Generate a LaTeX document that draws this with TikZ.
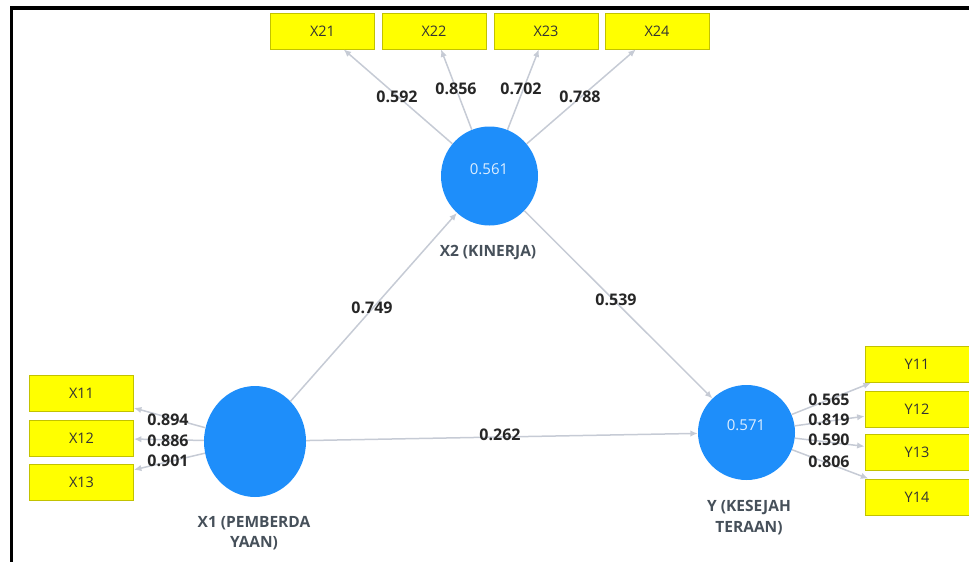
\documentclass[tikz,border=0pt]{standalone}
\usepackage{fontspec}
\setmainfont{Open Sans}
\usetikzlibrary{arrows.meta,shapes.geometric}
\definecolor{boxfill}{HTML}{FFFF00}
\definecolor{boxline}{HTML}{C2C200}
\definecolor{latblue}{HTML}{1E8EFA}
\definecolor{arrgrey}{HTML}{C6CBD5}
\definecolor{lablgrey}{HTML}{46505A}
\definecolor{valtext}{HTML}{DDEEFF}
\tikzset{
  ind/.style={rectangle, draw=boxline, line width=0.8pt, fill=boxfill,
    minimum width=104pt, minimum height=36pt, inner sep=0pt,
    font=\fontsize{14.5}{16}\selectfont, text=black!80},
  lat/.style={ellipse, fill=latblue, inner sep=0pt,
    font=\fontsize{15}{17}\selectfont, text=valtext},
  conn/.style={draw=arrgrey, line width=1.5pt, -{Latex[length=7.5pt,width=6.5pt]}},
  coef/.style={font=\bfseries\fontsize{16}{18}\selectfont, text=black!85, inner sep=0pt},
  latlab/.style={font=\bfseries\fontsize{15.5}{20.5}\selectfont, text=lablgrey, align=center, inner sep=0pt},
}
\begin{document}
\begin{tikzpicture}[x=1pt,y=-1pt]
\useasboundingbox (0,0) rectangle (969,562);
% frame
\draw[line width=3.5pt] (10,8) -- (969,8);
\draw[line width=3pt] (11.5,6.5) -- (11.5,562);

% latent variables
\node[lat, minimum width=102pt, minimum height=111pt] (X1) at (255,441.5) {};
\node[lat, minimum width=97pt, minimum height=99pt] (X2) at (489.5,176) {};
\node[lat, minimum width=97pt, minimum height=95pt] (Y) at (746.5,432.5) {};
\node[font=\fontsize{15}{17}\selectfont, text=valtext, inner sep=0pt] (vX2) at (489,169) {0.561};
\node[font=\fontsize{15}{17}\selectfont, text=valtext, inner sep=0pt] (vY) at (746,425) {0.571};

% indicators
\node[ind] (X21) at (322.5,31) {X21};
\node[ind] (X22) at (434,31) {X22};
\node[ind] (X23) at (546,31) {X23};
\node[ind] (X24) at (657,31) {X24};
\node[ind] (X11) at (81.5,393.5) {X11};
\node[ind] (X12) at (81.5,438) {X12};
\node[ind] (X13) at (81.5,482) {X13};
\node[ind] (Y11) at (917,364.5) {Y11};
\node[ind] (Y12) at (917,409) {Y12};
\node[ind] (Y13) at (917,452.5) {Y13};
\node[ind] (Y14) at (917,497) {Y14};

% connectors
\draw[conn] (X2) -- (X21);
\draw[conn] (X2) -- (X22);
\draw[conn] (X2) -- (X23);
\draw[conn] (X2) -- (X24);
\draw[conn] (X1) -- (X11);
\draw[conn] (X1) -- (X12);
\draw[conn] (X1) -- (X13);
\draw[conn] (Y) -- (Y11);
\draw[conn] (Y) -- (Y12);
\draw[conn] (Y) -- (Y13);
\draw[conn] (Y) -- (Y14);
\draw[conn] (X1) -- (X2);
\draw[conn] (X2) -- (Y);
\draw[conn] (X1) -- (Y);

% coefficients
\node[coef] (c21) at (397,97) {0.592};
\node[coef] (c22) at (456,89) {0.856};
\node[coef] (c23) at (521,89) {0.702};
\node[coef] (c24) at (580,97) {0.788};
\node[coef] (c11) at (168,420) {0.894};
\node[coef] (c12) at (168,441) {0.886};
\node[coef] (c13) at (168,460.5) {0.901};
\node[coef] (cy1) at (829,400) {0.565};
\node[coef] (cy2) at (829,420) {0.819};
\node[coef] (cy3) at (829,440) {0.590};
\node[coef] (cy4) at (829,462) {0.806};
\node[coef] (p12) at (372,308) {0.749};
\node[coef] (p2y) at (616,300) {0.539};
\node[coef] (p1y) at (500,435) {0.262};

% latent labels
\node[latlab] (lX2) at (488,253) {X2 (KINERJA)};
\node[latlab] (lX1) at (254,533) {X1 (PEMBERDA\\YAAN)};
\node[latlab] (lY) at (749,517.5) {Y (KESEJAH\\TERAAN)};
\end{tikzpicture}
\end{document}
